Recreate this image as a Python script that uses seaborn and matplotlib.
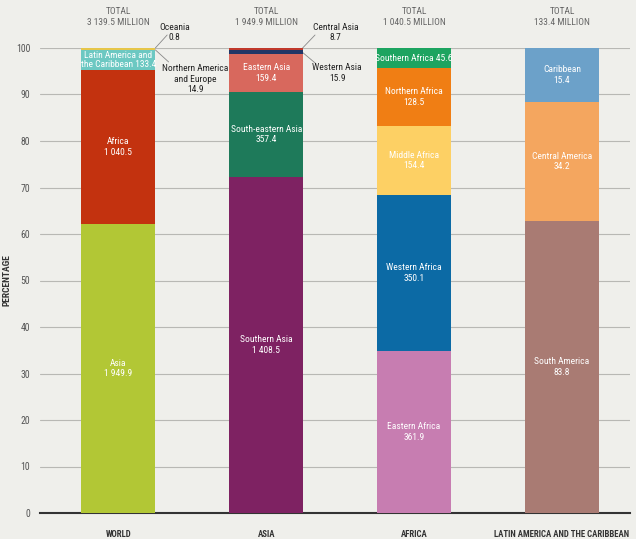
import matplotlib
matplotlib.use("Agg")
import matplotlib.pyplot as plt
import seaborn as sns

regions = ["WORLD", "ASIA", "AFRICA", "LATIN AMERICA AND THE CARIBBEAN"]
totals = ["3 139.5", "1 949.9", "1 040.5", "133.4"]

world_names = ["Asia", "Africa", "Latin America and\nthe Caribbean", "Northern America\nand Europe", "Oceania"]
world_values = [1949.9, 1040.5, 133.4, 14.9, 0.8]
world_labels = ["1 949.9", "1 040.5", "133.4", "14.9", "0.8"]

asia_names = ["Southern Asia", "South-eastern Asia", "Eastern Asia", "Western Asia", "Central Asia"]
asia_values = [1408.5, 357.4, 159.4, 15.9, 8.7]
asia_labels = ["1 408.5", "357.4", "159.4", "15.9", "8.7"]

africa_names = ["Eastern Africa", "Western Africa", "Middle Africa", "Northern Africa", "Southern Africa"]
africa_values = [361.9, 350.1, 154.4, 128.5, 45.6]
africa_labels = ["361.9", "350.1", "154.4", "128.5", "45.6"]

lac_names = ["South America", "Central America", "Caribbean"]
lac_values = [83.8, 34.2, 15.4]
lac_labels = ["83.8", "34.2", "15.4"]

world_colors = ["#b2c735", "#c3320f", "#6cc8c2", "#e6c64a", "#9aa43a"]
asia_colors = ["#7e2262", "#1e7a5a", "#d8685d", "#213566", "#c0392b"]
africa_colors = ["#c77db1", "#0c6aa5", "#fdd064", "#f07e14", "#1da460"]
lac_colors = ["#a97b73", "#f4a65f", "#6ca1c9"]

groups = [
    (world_names, world_values, world_labels, world_colors),
    (asia_names, asia_values, asia_labels, asia_colors),
    (africa_names, africa_values, africa_labels, africa_colors),
    (lac_names, lac_values, lac_labels, lac_colors),
]

sns.set_theme(style="white")
plt.rcParams["font.family"] = ["Roboto Condensed", "Roboto", "DejaVu Sans"]

BG = "#efefeb"
fig = plt.figure(figsize=(6.36, 5.39), dpi=100, facecolor=BG)
ax = fig.add_axes([40 / 636, 26 / 539, 1 - 40 / 636 - 6 / 636, (513 - 48) / 539])
ax.set_facecolor(BG)

for i, (names, vals, labs, cols) in enumerate(groups):
    tot = sum(vals)
    cum = 0.0
    for n, v, lab, c in zip(names, vals, labs, cols):
        pct = v / tot * 100
        sns.barplot(x=[regions[i]], y=[pct], bottom=cum, color=c, order=regions,
                    width=0.5, saturation=1, ax=ax, zorder=3, linewidth=0)
        cum += pct

ax.set_ylim(0, 100)
ax.set_xlim(-0.53, 3.46)
ax.set_yticks(range(0, 101, 10))
ax.set_yticklabels([str(t) for t in range(0, 101, 10)], fontsize=7, color="#555555")
ax.yaxis.grid(True, color="#b8b8b4", linewidth=0.8, zorder=0)
ax.tick_params(axis="y", length=0, pad=7)
ax.tick_params(axis="x", length=0, pad=12)
ax.set_xticks(range(4))
ax.set_xticklabels(regions, fontsize=6.3, fontweight="bold", color="#333333")
for s in ["top", "right", "left"]:
    ax.spines[s].set_visible(False)
ax.spines["bottom"].set_color("#333333")
ax.spines["bottom"].set_linewidth(1.5)
ax.set_xlabel("")
ax.set_ylabel("PERCENTAGE", fontsize=6.8, fontweight="bold", color="#333333", labelpad=3)

fs = 6.8
txt = dict(color="white", fontsize=fs, ha="center", va="center", zorder=5)
dark = dict(color="#222222", fontsize=fs, ha="center", va="center", zorder=5)
lc = "#888888"

def mids(vals):
    tot = sum(vals)
    out, cum = [], 0.0
    for v in vals:
        p = v / tot * 100
        out.append(cum + p / 2)
        cum += p
    return out

# World
m = mids(world_values)
ax.text(0, m[0], "Asia\n1 949.9", **txt)
ax.text(0, m[1], "Africa\n1 040.5", **txt)
ax.text(0, m[2], "Latin America and\nthe Caribbean 133.4", linespacing=1.0, **txt)
ax.text(0.38, 103.3, "Oceania\n0.8", **dark)
ax.plot([0.25, 0.33], [100, 102.8], color=lc, lw=0.6, clip_on=False)
ax.text(0.52, 93.3, "Northern America\nand Europe\n14.9", **dark)
ax.plot([0.25, 0.34], [99.6, 97.0], color=lc, lw=0.6, clip_on=False)

# Asia
m = mids(asia_values)
ax.text(1, m[0], "Southern Asia\n1 408.5", **txt)
ax.text(1, m[1], "South-eastern Asia\n357.4", **txt)
ax.text(1, m[2], "Eastern Asia\n159.4", **txt)
ax.text(1.47, 103.3, "Central Asia\n8.7", **dark)
ax.plot([1.24, 1.33], [99.8, 102.8], color=lc, lw=0.6, clip_on=False)
ax.text(1.48, 94.6, "Western Asia\n15.9", **dark)
ax.plot([1.24, 1.33], [99.2, 96.8], color=lc, lw=0.6, clip_on=False)

# Africa
m = mids(africa_values)
for k, (n, l) in enumerate(zip(africa_names, africa_labels)):
    if k == 4:
        ax.text(2, m[k], f"{n} {l}", **txt)
    else:
        ax.text(2, m[k], f"{n}\n{l}", **txt)

# LAC
m = mids(lac_values)
for k, (n, l) in enumerate(zip(lac_names, lac_labels)):
    ax.text(3, m[k], f"{n}\n{l}", **txt)

# Totals
for i, t in enumerate(totals):
    ax.text(i, 106.7, f"TOTAL\n{t} MILLION", color="#666666", fontsize=6.8,
            ha="center", va="center", clip_on=False)

fig.savefig("out.png", dpi=100, facecolor=BG)
